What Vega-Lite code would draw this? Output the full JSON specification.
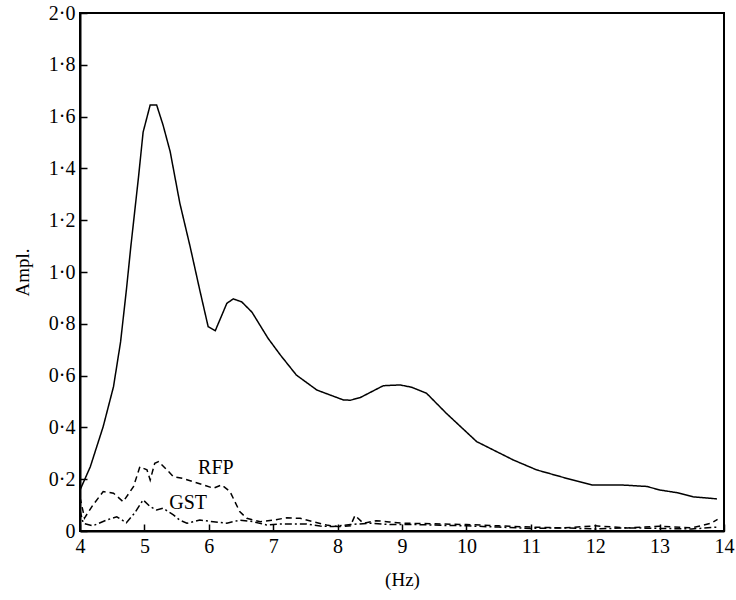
{
  "$schema": "https://vega.github.io/schema/vega-lite/v6.json",
  "autosize": "none",
  "width": 644,
  "height": 518,
  "padding": {"left": 80, "top": 13, "right": 12, "bottom": 69},
  "background": "white",
  "config": {
    "font": "Liberation Serif",
    "view": {"stroke": "black", "strokeWidth": 2},
    "axis": {
      "domainColor": "black", "domainWidth": 2,
      "tickColor": "black", "tickWidth": 1.5,
      "labelColor": "black", "titleColor": "black",
      "labelFont": "Liberation Serif", "titleFont": "Liberation Serif",
      "labelFontSize": 20, "titleFontSize": 19, "titleFontWeight": "normal",
      "grid": false
    }
  },
  "datasets": {
    "curves": [
      {"hz": 4.0, "amp": 0.158, "series": "main"},
      {"hz": 4.16, "amp": 0.248, "series": "main"},
      {"hz": 4.36, "amp": 0.403, "series": "main"},
      {"hz": 4.52, "amp": 0.557, "series": "main"},
      {"hz": 4.63, "amp": 0.73, "series": "main"},
      {"hz": 4.72, "amp": 0.93, "series": "main"},
      {"hz": 4.79, "amp": 1.1, "series": "main"},
      {"hz": 4.91, "amp": 1.37, "series": "main"},
      {"hz": 4.98, "amp": 1.54, "series": "main"},
      {"hz": 5.09, "amp": 1.645, "series": "main"},
      {"hz": 5.19, "amp": 1.645, "series": "main"},
      {"hz": 5.29, "amp": 1.567, "series": "main"},
      {"hz": 5.40, "amp": 1.465, "series": "main"},
      {"hz": 5.55, "amp": 1.266, "series": "main"},
      {"hz": 5.71, "amp": 1.098, "series": "main"},
      {"hz": 5.86, "amp": 0.93, "series": "main"},
      {"hz": 5.99, "amp": 0.789, "series": "main"},
      {"hz": 6.10, "amp": 0.773, "series": "main"},
      {"hz": 6.28, "amp": 0.879, "series": "main"},
      {"hz": 6.38, "amp": 0.896, "series": "main"},
      {"hz": 6.51, "amp": 0.885, "series": "main"},
      {"hz": 6.67, "amp": 0.845, "series": "main"},
      {"hz": 6.92, "amp": 0.744, "series": "main"},
      {"hz": 7.11, "amp": 0.68, "series": "main"},
      {"hz": 7.36, "amp": 0.602, "series": "main"},
      {"hz": 7.68, "amp": 0.544, "series": "main"},
      {"hz": 8.09, "amp": 0.506, "series": "main"},
      {"hz": 8.2, "amp": 0.505, "series": "main"},
      {"hz": 8.35, "amp": 0.515, "series": "main"},
      {"hz": 8.71, "amp": 0.561, "series": "main"},
      {"hz": 8.97, "amp": 0.564, "series": "main"},
      {"hz": 9.15, "amp": 0.555, "series": "main"},
      {"hz": 9.38, "amp": 0.532, "series": "main"},
      {"hz": 9.69, "amp": 0.454, "series": "main"},
      {"hz": 10.16, "amp": 0.345, "series": "main"},
      {"hz": 10.73, "amp": 0.274, "series": "main"},
      {"hz": 11.09, "amp": 0.236, "series": "main"},
      {"hz": 11.56, "amp": 0.203, "series": "main"},
      {"hz": 11.95, "amp": 0.178, "series": "main"},
      {"hz": 12.39, "amp": 0.178, "series": "main"},
      {"hz": 12.8, "amp": 0.172, "series": "main"},
      {"hz": 13.01, "amp": 0.158, "series": "main"},
      {"hz": 13.27, "amp": 0.148, "series": "main"},
      {"hz": 13.52, "amp": 0.132, "series": "main"},
      {"hz": 13.89, "amp": 0.124, "series": "main"},

      {"hz": 4.0, "amp": 0.13, "series": "RFP"},
      {"hz": 4.07, "amp": 0.05, "series": "RFP"},
      {"hz": 4.2, "amp": 0.1, "series": "RFP"},
      {"hz": 4.36, "amp": 0.152, "series": "RFP"},
      {"hz": 4.52, "amp": 0.146, "series": "RFP"},
      {"hz": 4.67, "amp": 0.113, "series": "RFP"},
      {"hz": 4.83, "amp": 0.171, "series": "RFP"},
      {"hz": 4.93, "amp": 0.248, "series": "RFP"},
      {"hz": 5.04, "amp": 0.236, "series": "RFP"},
      {"hz": 5.09, "amp": 0.197, "series": "RFP"},
      {"hz": 5.16, "amp": 0.261, "series": "RFP"},
      {"hz": 5.22, "amp": 0.268, "series": "RFP"},
      {"hz": 5.35, "amp": 0.236, "series": "RFP"},
      {"hz": 5.45, "amp": 0.21, "series": "RFP"},
      {"hz": 5.6, "amp": 0.203, "series": "RFP"},
      {"hz": 5.76, "amp": 0.19, "series": "RFP"},
      {"hz": 5.92, "amp": 0.178, "series": "RFP"},
      {"hz": 6.07, "amp": 0.165, "series": "RFP"},
      {"hz": 6.2, "amp": 0.178, "series": "RFP"},
      {"hz": 6.33, "amp": 0.152, "series": "RFP"},
      {"hz": 6.48, "amp": 0.075, "series": "RFP"},
      {"hz": 6.59, "amp": 0.049, "series": "RFP"},
      {"hz": 6.8, "amp": 0.036, "series": "RFP"},
      {"hz": 7.0, "amp": 0.042, "series": "RFP"},
      {"hz": 7.21, "amp": 0.051, "series": "RFP"},
      {"hz": 7.42, "amp": 0.049, "series": "RFP"},
      {"hz": 7.62, "amp": 0.036, "series": "RFP"},
      {"hz": 7.83, "amp": 0.023, "series": "RFP"},
      {"hz": 8.0, "amp": 0.017, "series": "RFP"},
      {"hz": 8.2, "amp": 0.02, "series": "RFP"},
      {"hz": 8.27, "amp": 0.06, "series": "RFP"},
      {"hz": 8.4, "amp": 0.03, "series": "RFP"},
      {"hz": 8.6, "amp": 0.04, "series": "RFP"},
      {"hz": 8.8, "amp": 0.035, "series": "RFP"},
      {"hz": 9.0, "amp": 0.03, "series": "RFP"},
      {"hz": 9.5, "amp": 0.028, "series": "RFP"},
      {"hz": 10.0, "amp": 0.025, "series": "RFP"},
      {"hz": 10.5, "amp": 0.02, "series": "RFP"},
      {"hz": 11.0, "amp": 0.015, "series": "RFP"},
      {"hz": 11.5, "amp": 0.012, "series": "RFP"},
      {"hz": 12.0, "amp": 0.02, "series": "RFP"},
      {"hz": 12.5, "amp": 0.012, "series": "RFP"},
      {"hz": 13.0, "amp": 0.018, "series": "RFP"},
      {"hz": 13.5, "amp": 0.012, "series": "RFP"},
      {"hz": 13.8, "amp": 0.03, "series": "RFP"},
      {"hz": 13.9, "amp": 0.045, "series": "RFP"},

      {"hz": 4.0, "amp": 0.08, "series": "GST"},
      {"hz": 4.05, "amp": 0.03, "series": "GST"},
      {"hz": 4.2, "amp": 0.02, "series": "GST"},
      {"hz": 4.41, "amp": 0.042, "series": "GST"},
      {"hz": 4.57, "amp": 0.055, "series": "GST"},
      {"hz": 4.72, "amp": 0.032, "series": "GST"},
      {"hz": 4.85, "amp": 0.07, "series": "GST"},
      {"hz": 4.98, "amp": 0.12, "series": "GST"},
      {"hz": 5.09, "amp": 0.094, "series": "GST"},
      {"hz": 5.19, "amp": 0.081, "series": "GST"},
      {"hz": 5.29, "amp": 0.088, "series": "GST"},
      {"hz": 5.45, "amp": 0.062, "series": "GST"},
      {"hz": 5.55, "amp": 0.042, "series": "GST"},
      {"hz": 5.66, "amp": 0.03, "series": "GST"},
      {"hz": 5.86, "amp": 0.042, "series": "GST"},
      {"hz": 6.07, "amp": 0.036, "series": "GST"},
      {"hz": 6.28, "amp": 0.03, "series": "GST"},
      {"hz": 6.48, "amp": 0.042, "series": "GST"},
      {"hz": 6.69, "amp": 0.036, "series": "GST"},
      {"hz": 6.9, "amp": 0.023, "series": "GST"},
      {"hz": 7.11, "amp": 0.027, "series": "GST"},
      {"hz": 7.31, "amp": 0.027, "series": "GST"},
      {"hz": 7.52, "amp": 0.027, "series": "GST"},
      {"hz": 7.73, "amp": 0.019, "series": "GST"},
      {"hz": 7.93, "amp": 0.017, "series": "GST"},
      {"hz": 8.2, "amp": 0.025, "series": "GST"},
      {"hz": 8.5, "amp": 0.03, "series": "GST"},
      {"hz": 8.8, "amp": 0.025, "series": "GST"},
      {"hz": 9.2, "amp": 0.025, "series": "GST"},
      {"hz": 9.6, "amp": 0.022, "series": "GST"},
      {"hz": 10.0, "amp": 0.02, "series": "GST"},
      {"hz": 10.5, "amp": 0.015, "series": "GST"},
      {"hz": 11.0, "amp": 0.01, "series": "GST"},
      {"hz": 11.5, "amp": 0.012, "series": "GST"},
      {"hz": 12.0, "amp": 0.008, "series": "GST"},
      {"hz": 12.5, "amp": 0.012, "series": "GST"},
      {"hz": 13.0, "amp": 0.01, "series": "GST"},
      {"hz": 13.5, "amp": 0.008, "series": "GST"},
      {"hz": 13.9, "amp": 0.015, "series": "GST"}
    ],
    "labels": [
      {"hz": 6.11, "amp": 0.243, "text": "RFP"},
      {"hz": 5.68, "amp": 0.108, "text": "GST"}
    ]
  },
  "layer": [
    {
      "data": {"name": "curves"},
      "mark": {"type": "line", "strokeWidth": 1.5, "color": "black", "clip": true},
      "encoding": {
        "x": {
          "field": "hz", "type": "quantitative", "title": "(Hz)",
          "scale": {"domain": [4, 14], "nice": false, "zero": false},
          "axis": {"values": [4,5,6,7,8,9,10,11,12,13,14], "format": "d", "tickSize": -7, "labelPadding": 12, "titlePadding": 14, "labelFlush": false}
        },
        "y": {
          "field": "amp", "type": "quantitative", "title": "Ampl.",
          "scale": {"domain": [0, 2], "nice": false},
          "axis": {"values": [0,0.2,0.4,0.6,0.8,1.0,1.2,1.4,1.6,1.8,2.0], "tickSize": -7, "labelPadding": 12, "titlePadding": 16,
                   "labelExpr": "datum.value == 0 ? '0' : replace(format(datum.value, '.1f'), '.', '·')"}
        },
        "detail": {"field": "series"},
        "strokeDash": {
          "field": "series", "type": "nominal",
          "scale": {"domain": ["main", "RFP", "GST"], "range": [[1, 0], [6, 4], [7, 3, 2, 3]]},
          "legend": null
        }
      }
    },
    {
      "data": {"name": "labels"},
      "mark": {"type": "text", "font": "Liberation Serif", "fontSize": 20, "color": "black", "align": "center", "baseline": "middle"},
      "encoding": {
        "x": {"field": "hz", "type": "quantitative"},
        "y": {"field": "amp", "type": "quantitative"},
        "text": {"field": "text"}
      }
    }
  ]
}
